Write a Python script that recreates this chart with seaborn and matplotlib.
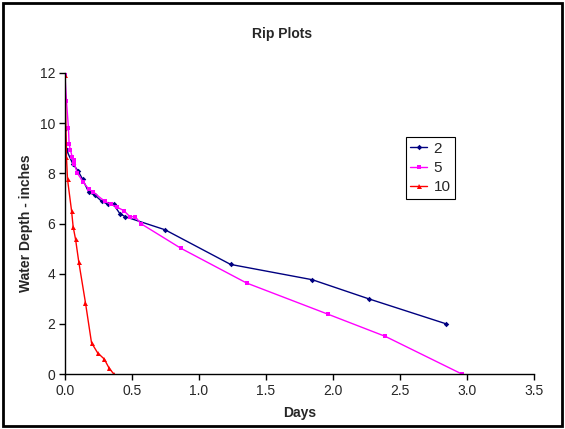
import numpy as np
import pandas as pd
from matplotlib import pyplot as plt
from matplotlib.patches import Rectangle
import seaborn as sns

# series (days, water depth in inches)
days_2 = [0.0, 0.013, 0.058, 0.096, 0.131, 0.178, 0.223, 0.273, 0.323, 0.363,
          0.41, 0.45, 0.747, 1.236, 1.846, 2.272, 2.846]
depth_2 = [9.76, 8.91, 8.38, 8.11, 7.77, 7.24, 7.13, 6.89, 6.76, 6.76,
           6.39, 6.27, 5.75, 4.37, 3.76, 2.99, 2.0]

days_5 = [0.0, 0.011, 0.026, 0.031, 0.041, 0.054, 0.064, 0.071, 0.091, 0.136,
          0.176, 0.211, 0.295, 0.345, 0.39, 0.44, 0.485, 0.525, 0.565,
          0.866, 1.355, 1.961, 2.392, 2.963]
depth_5 = [11.9, 10.9, 9.79, 9.15, 8.92, 8.66, 8.55, 8.37, 8.02, 7.65,
           7.38, 7.25, 6.89, 6.76, 6.65, 6.51, 6.27, 6.27, 6.0,
           5.01, 3.63, 2.39, 1.5, 0.0]

days_10 = [0.0, 0.011, 0.019, 0.049, 0.061, 0.079, 0.103, 0.153, 0.198, 0.243,
           0.293, 0.33, 0.365]
depth_10 = [11.9, 8.66, 7.76, 6.51, 5.87, 5.37, 4.47, 2.84, 1.25, 0.85,
            0.6, 0.23, 0.0]

series_names = ["2", "5", "10"]
colors = {"2": "#000080", "5": "#FF00FF", "10": "#FF0000"}
markers = {"2": "D", "5": "s", "10": "^"}
msizes = {"2": 2.8, "5": 3.2, "10": 3.6}

frames = []
for name, x, y in zip(series_names, [days_2, days_5, days_10], [depth_2, depth_5, depth_10]):
    frames.append(pd.DataFrame({"Days": x, "Depth": y, "Series": name}))
df = pd.concat(frames, ignore_index=True)

sns.set_style("white")
plt.rcParams['font.family'] = ['Liberation Sans', 'DejaVu Sans']

fig = plt.figure(figsize=(5.65, 4.29), dpi=100)
ax = fig.add_axes([0.115, 0.128, 0.830, 0.702])

for name in series_names:
    sub = df[df["Series"] == name]
    sns.lineplot(data=sub, x="Days", y="Depth", ax=ax, sort=False, estimator=None,
                 color=colors[name], marker=markers[name], markersize=msizes[name],
                 markeredgewidth=0, linewidth=1, label=name)

ax.set_xlim(0, 3.5)
ax.set_ylim(0, 12)
ax.set_xticks(np.arange(0, 3.51, 0.5))
ax.set_xticklabels([f"{v:.1f}" for v in np.arange(0, 3.51, 0.5)])
ax.set_yticks(range(0, 13, 2))

for side in ["top", "right"]:
    ax.spines[side].set_visible(False)
for side in ["left", "bottom"]:
    ax.spines[side].set_color("black")
    ax.spines[side].set_linewidth(1)

ax.tick_params(axis="both", direction="out", length=4, width=1, color="black",
               labelsize=10, left=True, bottom=True, pad=3)

ax.set_xlabel("Days", fontsize=10, fontweight="bold", labelpad=6)
ax.set_ylabel("Water Depth - inches", fontsize=10, fontweight="bold", labelpad=5)
fig.text(0.5, 0.921, "Rip Plots", ha="center", va="center", fontsize=10, fontweight="bold")

leg = ax.legend(loc="upper left", bbox_to_anchor=(0.727, 0.787), fontsize=11,
                frameon=True, fancybox=False, framealpha=1, edgecolor="black",
                handlelength=1.1, handletextpad=0.4, borderpad=0.3, labelspacing=0.35,
                borderaxespad=0)
leg.get_frame().set_linewidth(0.8)

fig.add_artist(Rectangle((0.006, 0.008), 0.988, 0.984, transform=fig.transFigure,
                         fill=False, edgecolor="black", linewidth=2))

fig.savefig("out.png", dpi=100)
